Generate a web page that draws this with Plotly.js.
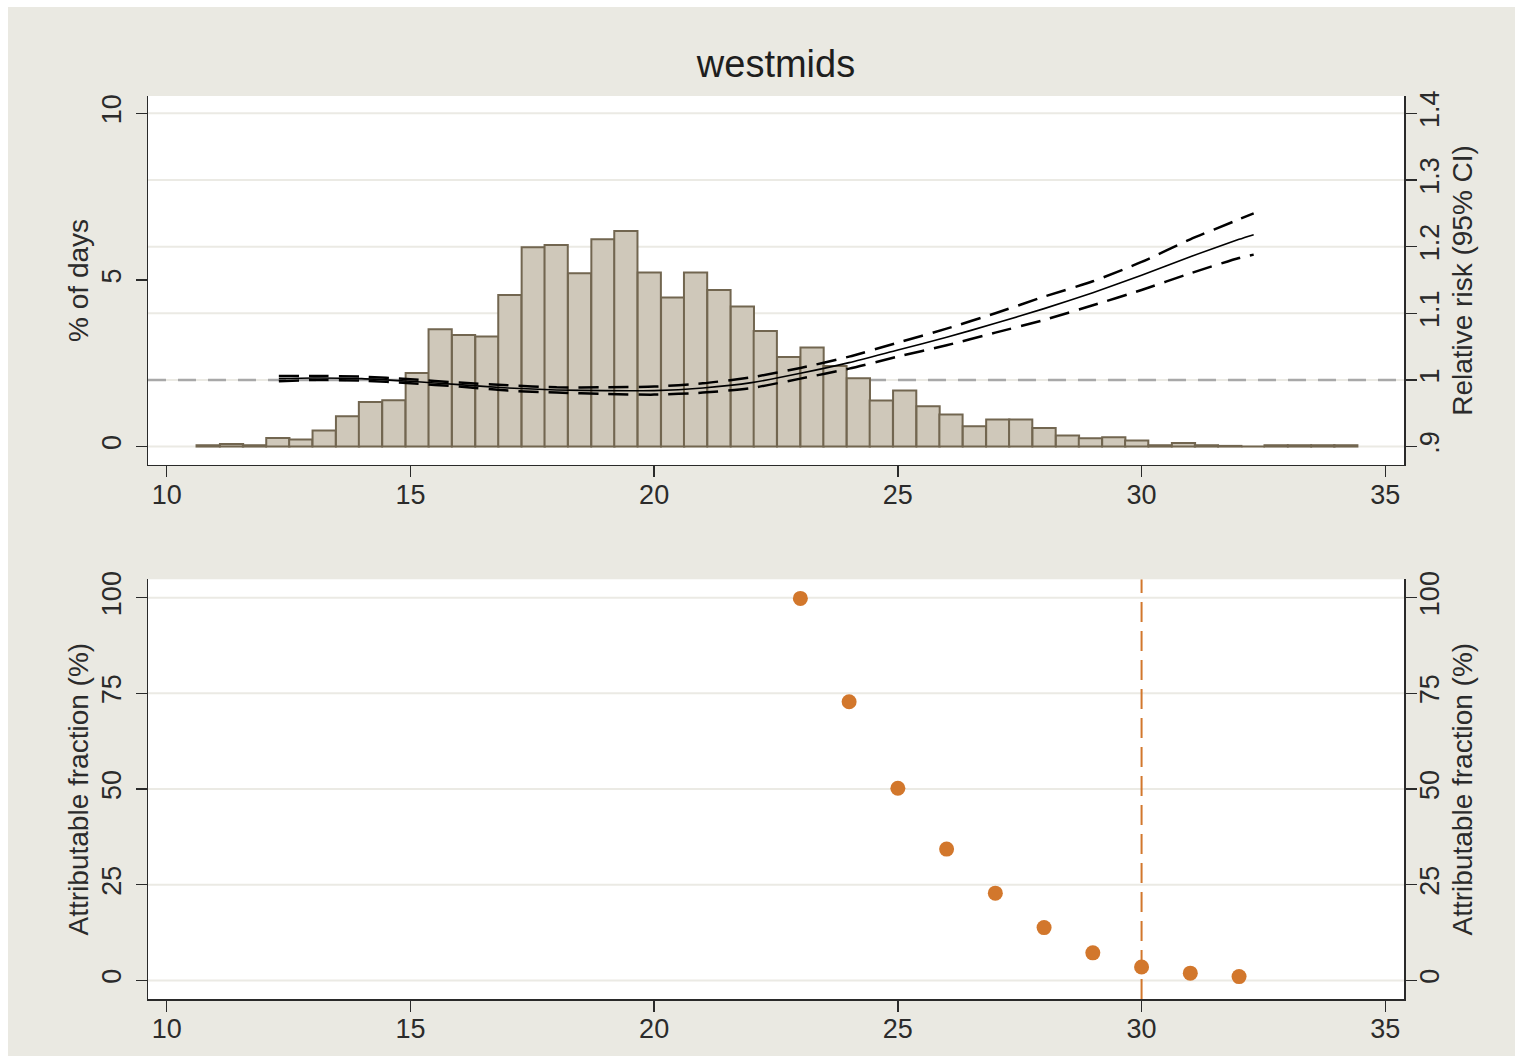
<!DOCTYPE html>
<html>
<head>
<meta charset="utf-8">
<script src="https://cdn.plot.ly/plotly-3.0.1.min.js"></script>
<style>
  html, body { margin: 0; padding: 0; background: #ffffff; }
  #chart { position: absolute; left: 8px; top: 7px; width: 1507px; height: 1049px; }
</style>
</head>
<body>
<div id="chart"></div>
<script>
// ---- Data ----
// Histogram of daily temperature: bin centres (deg C) and % of days
const binCenters = [10.85, 11.33, 11.80, 12.28, 12.75, 13.23, 13.71, 14.18, 14.66, 15.14,
                    15.61, 16.09, 16.57, 17.04, 17.52, 17.99, 18.47, 18.95, 19.42, 19.90,
                    20.38, 20.85, 21.33, 21.81, 22.28, 22.76, 23.24, 23.71, 24.19, 24.66,
                    25.14, 25.62, 26.09, 26.57, 27.05, 27.52, 28.00, 28.48, 28.95, 29.43,
                    29.90, 30.38, 30.86, 31.33, 31.81, 32.29, 32.76, 33.24, 33.72, 34.19];
const pctDays = [0.04, 0.08, 0.04, 0.26, 0.21, 0.48, 0.91, 1.34, 1.39, 2.21,
                 3.52, 3.35, 3.30, 4.55, 5.98, 6.05, 5.20, 6.22, 6.47, 5.22,
                 4.47, 5.22, 4.70, 4.20, 3.47, 2.69, 2.97, 2.42, 2.05, 1.38,
                 1.68, 1.21, 0.96, 0.61, 0.81, 0.81, 0.56, 0.33, 0.25, 0.28,
                 0.18, 0.04, 0.11, 0.04, 0.02, 0, 0.04, 0.04, 0.04, 0.04];

// Relative risk curve with 95% CI
const rrTemp  = [12.3, 13, 14, 15, 16, 17, 18, 19, 20, 21, 22, 23, 24, 25, 26, 27, 28, 29, 30, 31, 32, 32.3];
const rr      = [1.002, 1.003, 1.002, 0.998, 0.993, 0.988, 0.985, 0.984, 0.984, 0.988, 0.996,
                 1.010, 1.026, 1.045, 1.064, 1.085, 1.107, 1.131, 1.157, 1.185, 1.211, 1.218];
const rrUpper = [1.006, 1.006, 1.005, 1.001, 0.996, 0.992, 0.989, 0.989, 0.990, 0.995, 1.004,
                 1.018, 1.035, 1.056, 1.077, 1.100, 1.125, 1.148, 1.177, 1.211, 1.241, 1.250];
const rrLower = [0.998, 1.000, 0.999, 0.995, 0.990, 0.984, 0.981, 0.979, 0.978, 0.981, 0.988,
                 1.002, 1.017, 1.035, 1.052, 1.071, 1.090, 1.112, 1.135, 1.160, 1.183, 1.188];
const rrRef = 1;

// Attributable fraction (%) by threshold temperature
const afTemp = [23, 24, 25, 26, 27, 28, 29, 30, 31, 32];
const afPct  = [99.8, 72.8, 50.2, 34.3, 22.8, 13.8, 7.2, 3.5, 1.9, 1.0];
const afThreshold = 30;

// Tick labels
const xTicks = [10, 15, 20, 25, 30, 35];
const pctTicks = [0, 5, 10];
const rrTicks = [0.9, 1, 1.1, 1.2, 1.3, 1.4];
const rrTickText = ['.9', '1', '1.1', '1.2', '1.3', '1.4'];
const afTicks = [0, 25, 50, 75, 100];

const chartTitle = 'westmids';
const pctTitle = '% of days';
const rrTitle = 'Relative risk (95% CI)';
const afTitle = 'Attributable fraction (%)';

// ---- Axis ranges & styles ----
const xRange = [9.616, 35.384];
const pctRange = [-0.55, 10.52];
const rrRange = [0.8726, 1.426];
const afRange = [-4.86, 104.8];

const FONT = 'Liberation Sans, Arial, Helvetica, sans-serif';
const BG = '#EAE9E2';
const GRID = '#EBEAE4';
const AXIS = '#2a2a2a';
const TXT = '#2b2b2b';
const ORANGE = '#D2772C';

const tickFont = { family: FONT, size: 27, color: TXT };
const titleFont = { family: FONT, size: 28, color: TXT };

function xAxis(anchor) {
  return {
    anchor: anchor, domain: [0, 1], range: xRange,
    tickmode: 'array', tickvals: xTicks, ticks: 'outside', ticklen: 11, tickwidth: 1.5,
    tickcolor: AXIS, showline: true, linecolor: AXIS, linewidth: 1.5,
    showgrid: false, zeroline: false, tickfont: tickFont, fixedrange: true,
    ticklabelstandoff: -6
  };
}
function yCommon(extra) {
  return Object.assign({
    ticks: 'outside', ticklen: 11, tickwidth: 1.5, tickcolor: AXIS,
    showline: true, linecolor: AXIS, linewidth: 1.5, zeroline: false,
    tickangle: -90, tickfont: tickFont, tickmode: 'array', fixedrange: true,
    ticklabelstandoff: 4, showgrid: false
  }, extra);
}

const traces = [
  {
    type: 'bar', x: binCenters, y: pctDays, width: 0.4764,
    xaxis: 'x', yaxis: 'y',
    marker: { color: '#CFC8BA', line: { color: '#726650', width: 2 } },
    hoverinfo: 'x+y', showlegend: false
  },
  {
    type: 'scatter', mode: 'lines', x: rrTemp, y: rrUpper, xaxis: 'x', yaxis: 'y2',
    line: { color: '#000', width: 2.5, dash: '20px,10px', shape: 'spline', smoothing: 0.6 },
    showlegend: false
  },
  {
    type: 'scatter', mode: 'lines', x: rrTemp, y: rrLower, xaxis: 'x', yaxis: 'y2',
    line: { color: '#000', width: 2.5, dash: '20px,10px', shape: 'spline', smoothing: 0.6 },
    showlegend: false
  },
  {
    type: 'scatter', mode: 'lines', x: rrTemp, y: rr, xaxis: 'x', yaxis: 'y2',
    line: { color: '#000', width: 1.6, shape: 'spline', smoothing: 0.6 },
    showlegend: false
  },
  {
    type: 'scatter', mode: 'markers', x: afTemp, y: afPct, xaxis: 'x2', yaxis: 'y3',
    marker: { color: ORANGE, size: 15 }, showlegend: false
  },
  {
    type: 'scatter', mode: 'markers', x: afTemp, y: afPct, xaxis: 'x2', yaxis: 'y4',
    marker: { color: ORANGE, size: 15, opacity: 0 }, hoverinfo: 'skip', showlegend: false
  }
];

// Gridlines (drawn as shapes beneath the data so the reference lines can sit on top of them)
const shapes = [];
rrTicks.forEach(v => shapes.push({
  type: 'line', xref: 'x', x0: xRange[0], x1: xRange[1], yref: 'y2', y0: v, y1: v,
  line: { color: GRID, width: 2 }, layer: 'below'
}));
afTicks.forEach(v => shapes.push({
  type: 'line', xref: 'x2', x0: xRange[0], x1: xRange[1], yref: 'y3', y0: v, y1: v,
  line: { color: GRID, width: 2 }, layer: 'below'
}));
// RR = 1 reference line
shapes.push({
  type: 'line', xref: 'x', x0: xRange[0], x1: xRange[1], yref: 'y2', y0: rrRef, y1: rrRef,
  line: { color: '#A8A8A8', width: 2.5, dash: '18px,12px' }, layer: 'below'
});
// Threshold line in the attributable-fraction panel
shapes.push({
  type: 'line', xref: 'x2', x0: afThreshold, x1: afThreshold, yref: 'y3', y0: afRange[0], y1: afRange[1],
  line: { color: ORANGE, width: 2, dash: '20px,9px' }, layer: 'below'
});

const layout = {
  width: 1507, height: 1049,
  paper_bgcolor: BG, plot_bgcolor: '#ffffff',
  margin: { l: 140, r: 111, t: 89, b: 57 },
  font: { family: FONT, color: TXT },
  showlegend: false,
  bargap: 0,
  title: {
    text: chartTitle, font: { family: FONT, size: 38, color: '#1e1e1e' },
    x: 0.5, xref: 'paper', xanchor: 'center',
    y: 1 - 56.4 / 1049, yref: 'container', yanchor: 'middle'
  },
  xaxis: xAxis('y'),
  xaxis2: xAxis('y3'),
  yaxis: yCommon({
    domain: [0.5915, 1], anchor: 'x', range: pctRange, tickvals: pctTicks,
    title: { text: pctTitle, font: titleFont, standoff: 0 }
  }),
  yaxis2: yCommon({
    overlaying: 'y', side: 'right', anchor: 'x', range: rrRange,
    tickvals: rrTicks, ticktext: rrTickText,
    ticklabelstandoff: -10,
    title: { text: rrTitle, font: titleFont, standoff: 8 }
  }),
  yaxis3: yCommon({
    domain: [0, 0.4648], anchor: 'x2', range: afRange, tickvals: afTicks,
    title: { text: afTitle, font: titleFont, standoff: 0 }
  }),
  yaxis4: yCommon({
    overlaying: 'y3', side: 'right', anchor: 'x2', range: afRange, tickvals: afTicks,
    ticklabelstandoff: -10,
    title: { text: afTitle, font: titleFont, standoff: 8 }
  }),
  shapes: shapes
};

Plotly.newPlot('chart', traces, layout, { displayModeBar: false, staticPlot: true });
</script>
</body>
</html>
